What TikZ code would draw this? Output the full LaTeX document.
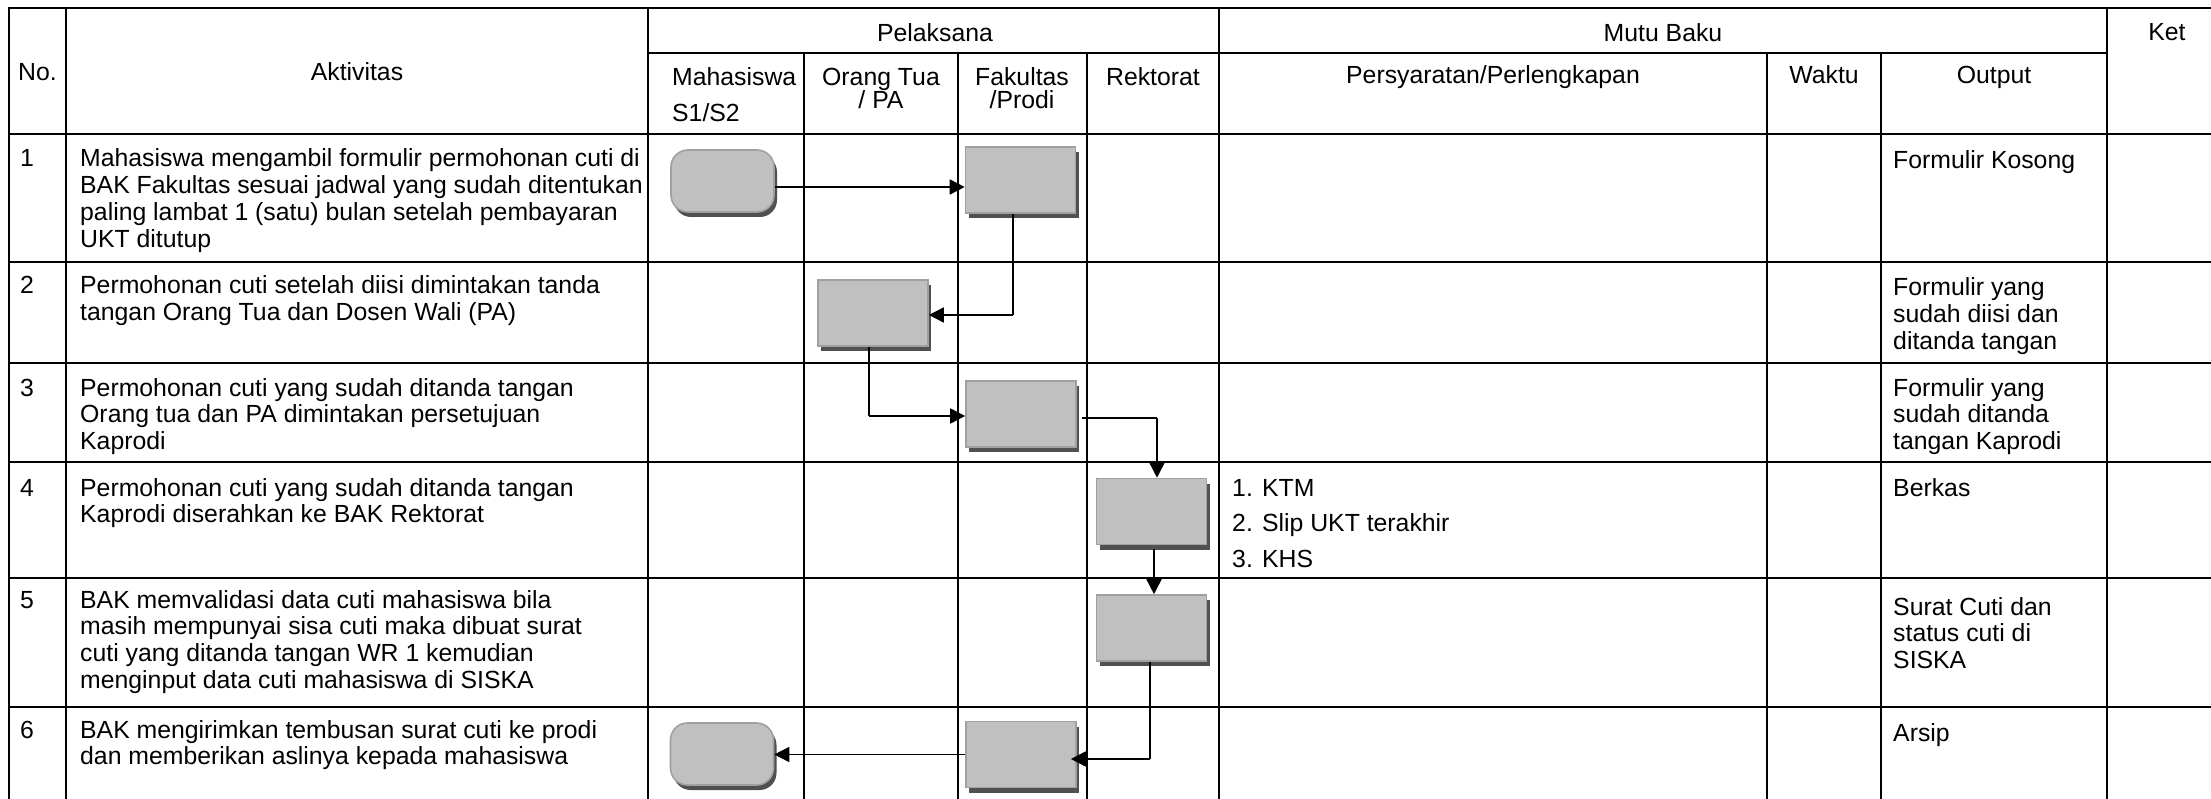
\documentclass[tikz,border=0pt]{standalone}
\usepackage{fontspec}
\setmainfont{Liberation Sans}
\usetikzlibrary{arrows.meta,shadows}
\definecolor{boxfill}{RGB}{192,192,192}
\definecolor{boxline}{RGB}{160,160,160}
\definecolor{shadec}{RGB}{80,80,80}
\newcommand\tabfont{\fontsize{24.8}{26.7}\selectfont}
\newcommand\mylines[1]{\begin{tabular}[t]{@{}l@{}}#1\end{tabular}}
\begin{document}
\begin{tikzpicture}[x=1pt,y=-1pt,
  tbl/.style={line width=2.2pt,line cap=rect},
  cell/.style={anchor=base west,inner sep=0pt,font=\tabfont},
  hd/.style={anchor=base,inner sep=0pt,font=\tabfont},
  proc/.style={rectangle,minimum width=110pt,minimum height=66pt,inner sep=0pt,
    fill=boxfill,draw=boxline,line width=1.6pt,
    drop shadow={shadow xshift=3pt,shadow yshift=-5pt,fill=shadec,opacity=1}},
  term/.style={proc,rounded corners=17pt,minimum width=103pt,minimum height=62pt},
  thinl/.style={line width=1.1pt,black},
  arr/.style={line width=1.6pt,black,-{Triangle[length=15pt,width=15pt]}}]
\fill[white] (0,0) rectangle (2211,799);
\useasboundingbox (0,0) rectangle (2211,799);
\begin{scope}
\clip (0,0) rectangle (2211,799);
% table grid
\begin{scope}[tbl]
\draw (9,8) -- (2240,8);
\draw (648,53) -- (2107,53);
\foreach \y in {134,262,363,462,578,707} \draw (9,\y) -- (2240,\y);
\foreach \x in {9,66,648,1219,2107} \draw (\x,8) -- (\x,830);
\foreach \x in {804,958,1087,1767,1881} \draw (\x,53) -- (\x,830);
\end{scope}

% headers
\node[hd] (hno) at (37.5,81) {No.};
\node[hd] (hakt) at (357,81) {Aktivitas};
\node[hd] (hpel) at (935,42) {Pelaksana};
\node[hd] (hmutu) at (1663,42) {Mutu Baku};
\node[hd] (hket) at (2167,41) {Ket};
\node[cell] (hmhs) at (672,86) {Mahasiswa};
\node[cell] (hmhs2) at (672,122) {S1/S2};
\node[hd] (hot) at (881,86) {Orang Tua};
\node[hd] (hot2) at (881,109) {/ PA};
\node[hd] (hfak) at (1022,86) {Fakultas};
\node[hd] (hfak2) at (1022,109) {/Prodi};
\node[hd] (hrek) at (1153,86) {Rektorat};
\node[hd] (hsyarat) at (1493,84) {Persyaratan/Perlengkapan};
\node[hd] (hwaktu) at (1824,84) {Waktu};
\node[hd] (hout) at (1994,84) {Output};

% numbers
\node[cell] (n1) at (20,167) {1};
\node[cell] (n2) at (20,294) {2};
\node[cell] (n3) at (20,396) {3};
\node[cell] (n4) at (20,496) {4};
\node[cell] (n5) at (20,608) {5};
\node[cell] (n6) at (20,738) {6};

% activities
\node[cell] (a1) at (80,167) {\mylines{Mahasiswa mengambil formulir permohonan cuti di\\BAK Fakultas sesuai jadwal yang sudah ditentukan\\paling lambat 1 (satu) bulan setelah pembayaran\\UKT ditutup}};
\node[cell] (a2) at (80,294) {\mylines{Permohonan cuti setelah diisi dimintakan tanda\\tangan Orang Tua dan Dosen Wali (PA)}};
\node[cell] (a3) at (80,396) {\mylines{Permohonan cuti yang sudah ditanda tangan\\Orang tua dan PA dimintakan persetujuan\\Kaprodi}};
\node[cell] (a4) at (80,496) {\mylines{Permohonan cuti yang sudah ditanda tangan\\Kaprodi diserahkan ke BAK Rektorat}};
\node[cell] (a5) at (80,608) {\mylines{BAK memvalidasi data cuti mahasiswa bila\\masih mempunyai sisa cuti maka dibuat surat\\cuti yang ditanda tangan WR 1 kemudian\\menginput data cuti mahasiswa di SISKA}};
\node[cell] (a6) at (80,738) {\mylines{BAK mengirimkan tembusan surat cuti ke prodi\\dan memberikan aslinya kepada mahasiswa}};

% requirements
\node[cell] (s1) at (1232,496) {1. KTM};
\node[cell] (s2) at (1232,531) {2. Slip UKT terakhir};
\node[cell] (s3) at (1232,567) {3. KHS};

% outputs
\node[cell] (o1) at (1893,169) {Formulir Kosong};
\node[cell] (o2) at (1893,296) {\mylines{Formulir yang\\sudah diisi dan\\ditanda tangan}};
\node[cell] (o3) at (1893,396) {\mylines{Formulir yang\\sudah ditanda\\tangan Kaprodi}};
\node[cell] (o4) at (1893,496) {Berkas};
\node[cell] (o5) at (1893,615) {\mylines{Surat Cuti dan\\status cuti di\\SISKA}};
\node[cell] (o6) at (1893,741) {Arsip};

% flow shapes
\node[term] (oval1) at (722.5,181) {};
\node[proc] (fak1) at (1020.5,180) {};
\node[proc] (ot2) at (873,313) {};
\node[proc] (fak3) at (1021,414) {};
\node[proc] (rek4) at (1151.5,511.5) {};
\node[proc] (rek5) at (1151.5,628) {};
\node[proc] (fak6) at (1021,754.5) {};
\node[term] (oval6) at (722,754) {};

% connectors
\draw[arr] ([yshift=-6pt]oval1.east) -- ([yshift=-6pt]oval1.east -| fak1.west);
\coordinate (c12) at (1013,315);
\draw[thinl] (c12 |- fak1.south) -- (c12);
\draw[arr] (c12) -- (c12 -| ot2.east);
\coordinate (c23) at (869,416);
\draw[thinl] (c23 |- ot2.south) -- (c23);
\draw[arr] (c23) -- (c23 -| fak3.west);
\coordinate (c34) at (1157,418);
\draw[thinl] ([xshift=5pt]fak3.east |- c34) -- (c34);
\draw[arr] (c34) -- (c34 |- rek4.north);
\draw[arr] ([xshift=2.5pt,yshift=-4pt]rek4.south) -- ([xshift=2.5pt]rek5.north);
\coordinate (c56) at (1150,759);
\draw[thinl] (c56 |- rek5.south) -- (c56);
\draw[arr,shorten >=-6pt] (c56) -- (c56 -| fak6.east);
\draw[arr] (fak6.west) -- (fak6.west -| oval6.east);
\end{scope}
\end{tikzpicture}
\end{document}
